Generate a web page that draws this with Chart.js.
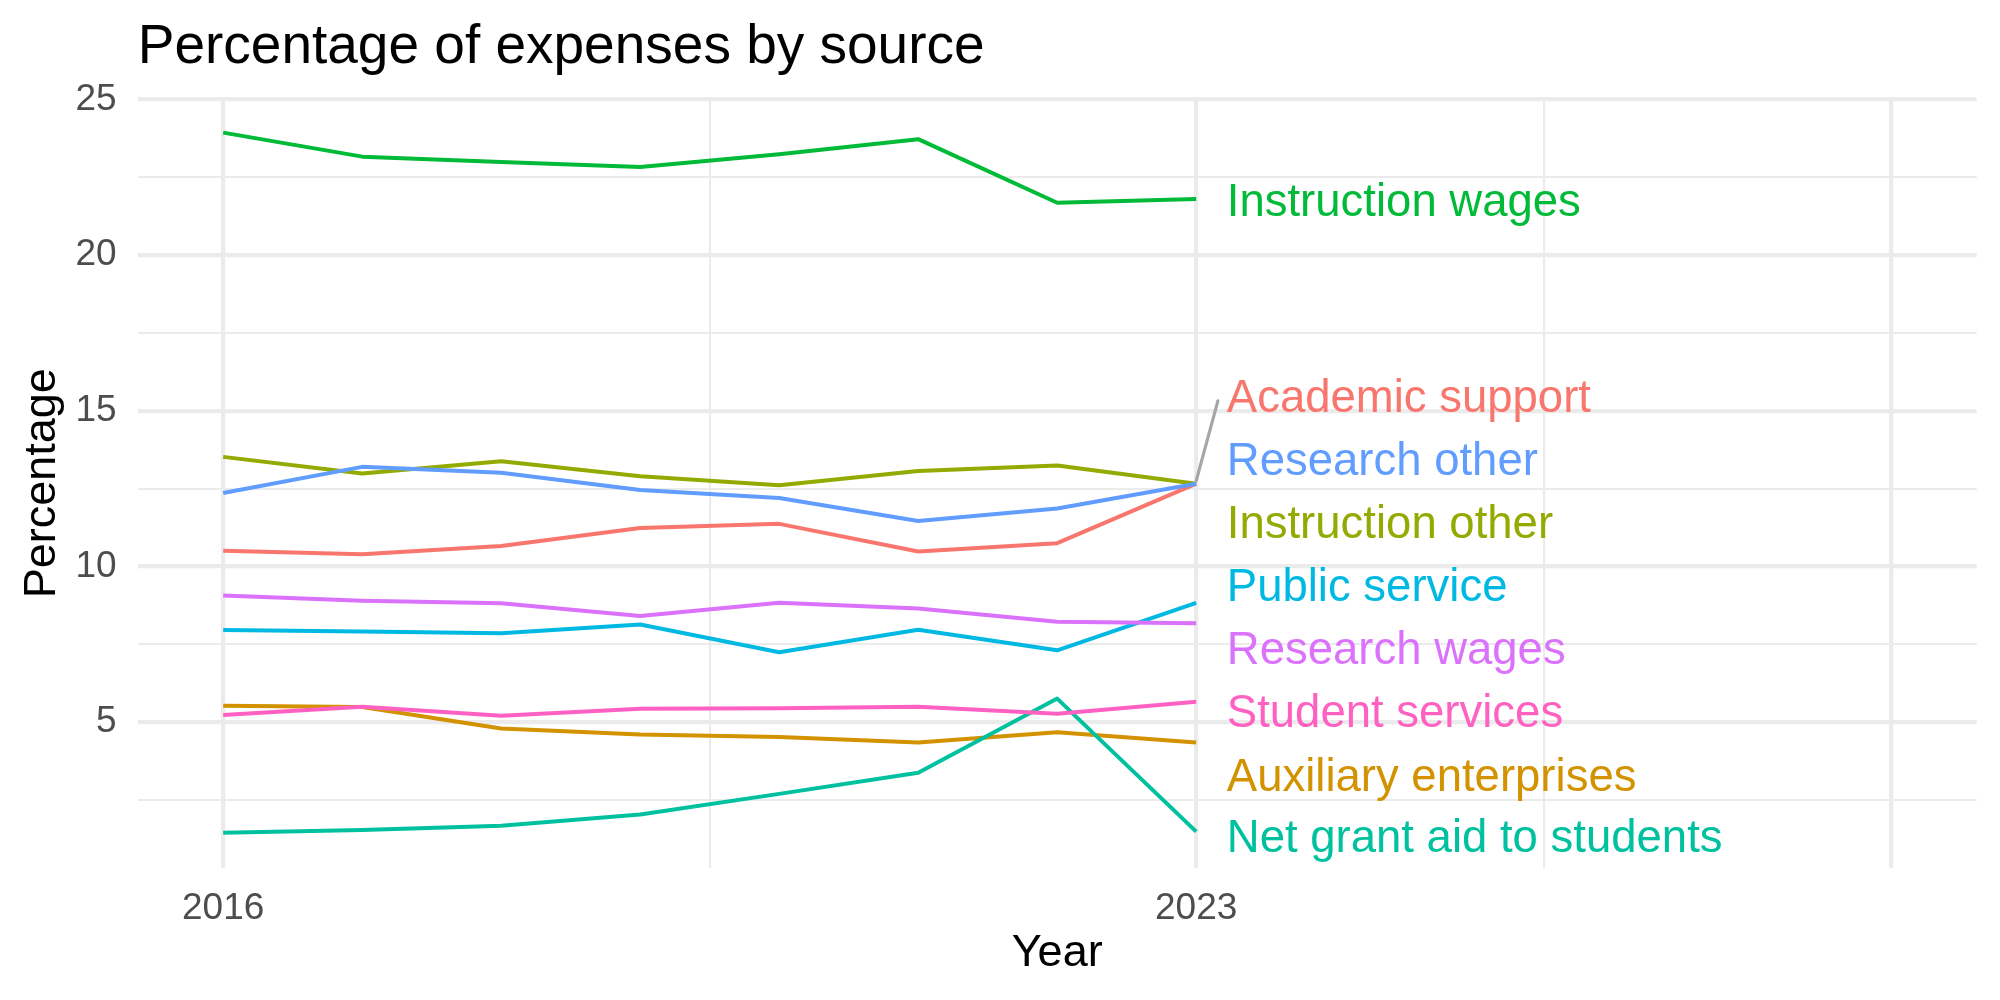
<!DOCTYPE html>
<html>
<head>
<meta charset="utf-8">
<script src="https://cdn.jsdelivr.net/npm/chart.js@4/dist/chart.umd.min.js"></script>
<style>
  html, body { margin: 0; padding: 0; background: #ffffff; }
  #wrap { width: 2000px; height: 1000px; position: relative; }
</style>
</head>
<body>
<div id="wrap"><canvas id="c" width="2000" height="1000"></canvas></div>
<script>
// ---------- data ----------
const years = [2016, 2017, 2018, 2019, 2020, 2021, 2022, 2023];

const seriesNames = [
  "Academic support", "Auxiliary enterprises", "Instruction other", "Instruction wages",
  "Net grant aid to students", "Public service", "Research other", "Research wages", "Student services"
];

const academicSupport      = [10.51, 10.39, 10.66, 11.24, 11.37, 10.48, 10.75, 12.66];
const auxiliaryEnterprises = [5.53, 5.49, 4.80, 4.61, 4.53, 4.35, 4.68, 4.35];
const instructionOther     = [13.52, 12.99, 13.38, 12.90, 12.61, 13.07, 13.24, 12.66];
const instructionWages     = [23.93, 23.16, 22.99, 22.83, 23.24, 23.72, 21.68, 21.80];
const netGrantAid          = [1.45, 1.54, 1.68, 2.04, 2.70, 3.38, 5.76, 1.49];
const publicService        = [7.96, 7.91, 7.86, 8.14, 7.25, 7.97, 7.31, 8.83];
const researchOther        = [12.36, 13.20, 13.01, 12.46, 12.20, 11.46, 11.86, 12.66];
const researchWages        = [9.07, 8.90, 8.82, 8.41, 8.84, 8.65, 8.23, 8.18];
const studentServices      = [5.23, 5.50, 5.21, 5.43, 5.45, 5.50, 5.27, 5.66];

const seriesValues = [academicSupport, auxiliaryEnterprises, instructionOther, instructionWages,
  netGrantAid, publicService, researchOther, researchWages, studentServices];

const seriesColors = ["#F8766D", "#D39200", "#93AA00", "#00BA38", "#00C19F",
  "#00B9E3", "#619CFF", "#DB72FB", "#FF61C3"];

// repelled label anchors (value units), in the same order as seriesNames
const labelValues = [15.48, 3.33, 11.43, 21.77, 1.35, 9.43, 13.45, 7.40, 5.36];
const labelYear = 2023.22;
// leader segment for "Academic support" (value units)
const segmentFrom = [2023.0, 12.75];
const segmentTo = [2023.156, 15.32];

const xMajorBreaks = [2016, 2023, 2028];
const xMinorBreaks = [2019.5, 2025.5];
const xTickLabels = { 2016: "2016", 2023: "2023" };
const yMajorBreaks = [5, 10, 15, 20, 25];
const yMinorBreaks = [2.5, 7.5, 12.5, 17.5, 22.5];

const chartTitle = "Percentage of expenses by source";
const xTitle = "Year";
const yTitle = "Percentage";

// ---------- chart ----------
const FONT = "'Liberation Sans', Arial, Helvetica, sans-serif";
const GRID = "#EBEBEB";

const datasets = seriesNames.map((name, i) => ({
  label: name,
  data: years.map((y, j) => ({ x: y, y: seriesValues[i][j] })),
  borderColor: seriesColors[i],
  backgroundColor: seriesColors[i],
  borderWidth: 4,
  pointRadius: 0,
  pointHoverRadius: 0,
  tension: 0,
  fill: false,
  borderCapStyle: "butt",
  borderJoinStyle: "round",
  order: seriesNames.length - i
}));

const annotatePlugin = {
  id: "annotate",
  afterDatasetsDraw(chart) {
    const ctx = chart.ctx;
    const xs = chart.scales.x, ys = chart.scales.y;
    ctx.save();
    // leader segment
    ctx.strokeStyle = "#A6A6A6";
    ctx.lineWidth = 3.2;
    ctx.lineCap = "round";
    ctx.beginPath();
    ctx.moveTo(xs.getPixelForValue(segmentFrom[0]), ys.getPixelForValue(segmentFrom[1]));
    ctx.lineTo(xs.getPixelForValue(segmentTo[0]), ys.getPixelForValue(segmentTo[1]));
    ctx.stroke();
    // series labels
    ctx.font = "45.5px " + FONT;
    ctx.textAlign = "left";
    ctx.textBaseline = "alphabetic";
    const lx = xs.getPixelForValue(labelYear);
    seriesNames.forEach((name, i) => {
      ctx.fillStyle = seriesColors[i];
      ctx.fillText(name, lx, ys.getPixelForValue(labelValues[i]) + 16.3);
    });
    ctx.restore();
  },
  afterDraw(chart) {
    const ctx = chart.ctx;
    const area = chart.chartArea;
    ctx.save();
    ctx.fillStyle = "#000000";
    // title
    ctx.font = "55px " + FONT;
    ctx.textAlign = "left";
    ctx.textBaseline = "alphabetic";
    ctx.fillText(chartTitle, area.left, 62.5);
    // x axis title
    ctx.font = "45px " + FONT;
    ctx.textAlign = "center";
    ctx.fillText(xTitle, (area.left + area.right) / 2, 966);
    // y axis title
    ctx.translate(55, (area.top + area.bottom) / 2);
    ctx.rotate(-Math.PI / 2);
    ctx.fillText(yTitle, 0, 0);
    ctx.restore();
  }
};

new Chart(document.getElementById("c"), {
  type: "line",
  data: { datasets },
  options: {
    responsive: false,
    animation: false,
    events: [],
    layout: { padding: { left: 0, right: 23.3, top: 98.7, bottom: 0 } },
    plugins: {
      legend: { display: false },
      title: { display: false },
      tooltip: { enabled: false }
    },
    scales: {
      x: {
        type: "linear",
        min: 2015.385,
        max: 2028.615,
        afterBuildTicks(scale) {
          scale.ticks = xMajorBreaks.concat(xMinorBreaks).sort((a, b) => a - b).map(v => ({ value: v }));
        },
        afterFit(scale) { scale.height = 132.3; },
        border: { display: false },
        grid: {
          color: GRID,
          drawTicks: false,
          lineWidth: (c) => (c.tick && xMajorBreaks.includes(c.tick.value)) ? 4.2 : 2.1
        },
        ticks: {
          autoSkip: false,
          maxRotation: 0,
          padding: 19,
          color: "#4D4D4D",
          font: { family: FONT, size: 37 },
          callback: (v) => xTickLabels[v] || ""
        }
      },
      y: {
        type: "linear",
        min: 0.33,
        max: 25.02,
        afterBuildTicks(scale) {
          scale.ticks = yMajorBreaks.concat(yMinorBreaks).sort((a, b) => a - b).map(v => ({ value: v }));
        },
        afterFit(scale) { scale.width = 137.7; },
        border: { display: false },
        grid: {
          color: GRID,
          drawTicks: false,
          lineWidth: (c) => (c.tick && yMajorBreaks.includes(c.tick.value)) ? 4.2 : 2.1
        },
        ticks: {
          autoSkip: false,
          padding: 21,
          color: "#4D4D4D",
          font: { family: FONT, size: 37 },
          callback: (v) => yMajorBreaks.includes(v) ? String(v) : ""
        }
      }
    }
  },
  plugins: [annotatePlugin]
});
</script>
</body>
</html>
